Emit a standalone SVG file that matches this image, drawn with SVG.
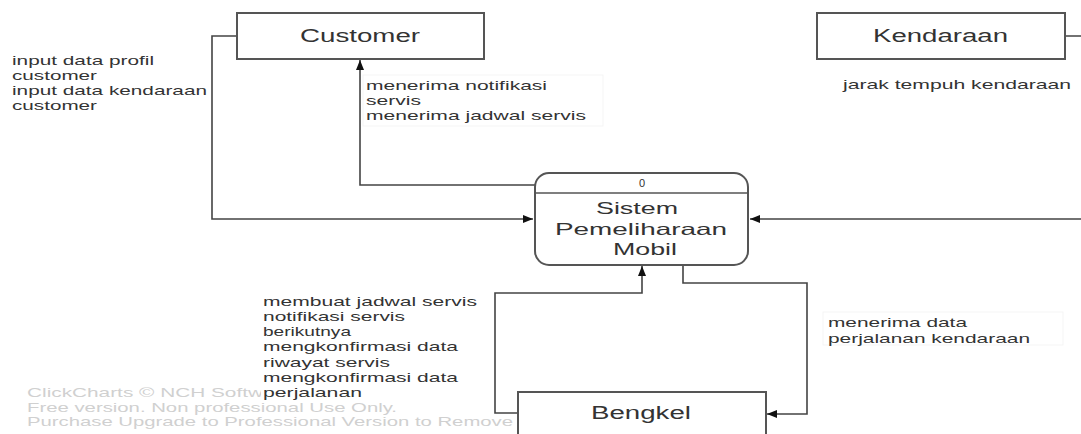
<svg xmlns="http://www.w3.org/2000/svg" width="1081" height="434" viewBox="0 0 1081 434">
<style>
.box{fill:#fff;stroke:#555;stroke-width:2}
.t{font-family:"Liberation Sans",Arial,sans-serif;fill:#333}
.title{font-size:17.5px}
.proc{font-size:16.5px}
.lbl{font-size:13.5px}
.wm{font-family:"Liberation Sans",Arial,sans-serif;font-size:13.5px;fill:#d0d0d0}
.conn{fill:none;stroke:#444;stroke-width:1.6}
.lbg{fill:#fff;stroke:#f5f5f5;stroke-width:1}
</style>
<defs>
<marker id="ah" markerUnits="userSpaceOnUse" markerWidth="10" markerHeight="8" refX="10" refY="4" orient="auto">
<path d="M0,0 L10,4 L0,8 z" fill="#111"/>
</marker>
</defs>
<rect width="1081" height="434" fill="#fff"/>
<g id="watermark">
<text class="wm" x="27" y="397" textLength="266" lengthAdjust="spacingAndGlyphs">ClickCharts © NCH Software</text>
<text class="wm" x="27" y="412" textLength="370" lengthAdjust="spacingAndGlyphs">Free version. Non professional Use Only.</text>
<text class="wm" x="27" y="426" textLength="486" lengthAdjust="spacingAndGlyphs">Purchase Upgrade to Professional Version to Remove</text>
</g>
<g id="connectors">
<path class="conn" d="M237,36 H212 V219 H533" marker-end="url(#ah)"/>
<path class="conn" d="M535,185 H360 V60" marker-end="url(#ah)"/>
<path class="conn" d="M1065,36 H1090 V219 H750" marker-end="url(#ah)"/>
<path class="conn" d="M518,413 H495 V293 H642 V266" marker-end="url(#ah)"/>
<path class="conn" d="M683,265 V283 H807 V414 H767" marker-end="url(#ah)"/>
</g>
<g id="labels">
<g id="lbl-customer-in">
<text class="t lbl" x="12" y="65" textLength="142" lengthAdjust="spacingAndGlyphs">input data profil</text>
<text class="t lbl" x="12" y="80" textLength="85" lengthAdjust="spacingAndGlyphs">customer</text>
<text class="t lbl" x="12" y="95" textLength="195" lengthAdjust="spacingAndGlyphs">input data kendaraan</text>
<text class="t lbl" x="12" y="110" textLength="85" lengthAdjust="spacingAndGlyphs">customer</text>
</g>
<g id="lbl-customer-out">
<rect class="lbg" x="363" y="75" width="240" height="51"/>
<text class="t lbl" x="366" y="90" textLength="181" lengthAdjust="spacingAndGlyphs">menerima notifikasi</text>
<text class="t lbl" x="366" y="105" textLength="55" lengthAdjust="spacingAndGlyphs">servis</text>
<text class="t lbl" x="366" y="120" textLength="220" lengthAdjust="spacingAndGlyphs">menerima jadwal servis</text>
</g>
<g id="lbl-kendaraan">
<text class="t lbl" x="843" y="89" textLength="228" lengthAdjust="spacingAndGlyphs">jarak tempuh kendaraan</text>
</g>
<g id="lbl-bengkel-in">
<rect x="261" y="293" width="218" height="108" fill="#fff"/>
<text class="t lbl" x="263" y="306" textLength="214" lengthAdjust="spacingAndGlyphs">membuat jadwal servis</text>
<text class="t lbl" x="263" y="321" textLength="142" lengthAdjust="spacingAndGlyphs">notifikasi servis</text>
<text class="t lbl" x="263" y="336" textLength="88" lengthAdjust="spacingAndGlyphs">berikutnya</text>
<text class="t lbl" x="263" y="351" textLength="195" lengthAdjust="spacingAndGlyphs">mengkonfirmasi data</text>
<text class="t lbl" x="263" y="367" textLength="127" lengthAdjust="spacingAndGlyphs">riwayat servis</text>
<text class="t lbl" x="263" y="382" textLength="195" lengthAdjust="spacingAndGlyphs">mengkonfirmasi data</text>
<text class="t lbl" x="263" y="397" textLength="99" lengthAdjust="spacingAndGlyphs">perjalanan</text>
</g>
<g id="lbl-bengkel-out">
<rect class="lbg" x="823" y="312" width="240" height="33"/>
<text class="t lbl" x="828" y="327" textLength="139" lengthAdjust="spacingAndGlyphs">menerima data</text>
<text class="t lbl" x="828" y="343" textLength="202" lengthAdjust="spacingAndGlyphs">perjalanan kendaraan</text>
</g>
</g>
<g id="customer">
<rect class="box" x="237" y="13" width="247" height="46"/>
<text class="t title" x="300" y="42" textLength="120" lengthAdjust="spacingAndGlyphs">Customer</text>
</g>
<g id="kendaraan">
<rect class="box" x="817" y="13" width="248" height="46"/>
<text class="t title" x="873" y="42" textLength="135" lengthAdjust="spacingAndGlyphs">Kendaraan</text>
</g>
<g id="process">
<rect class="box" x="535" y="173" width="213" height="92" rx="14" ry="14"/>
<line x1="535" y1="193" x2="748" y2="193" stroke="#555" stroke-width="1.6"/>
<text class="t" font-size="11" x="642" y="187" text-anchor="middle">0</text>
<text class="t proc" x="596" y="214" textLength="82" lengthAdjust="spacingAndGlyphs">Sistem</text>
<text class="t proc" x="555" y="235" textLength="172" lengthAdjust="spacingAndGlyphs">Pemeliharaan</text>
<text class="t proc" x="613" y="255" textLength="64" lengthAdjust="spacingAndGlyphs">Mobil</text>
</g>
<g id="bengkel">
<rect class="box" x="518" y="392" width="248" height="60"/>
<text class="t title" x="591" y="419" textLength="100" lengthAdjust="spacingAndGlyphs">Bengkel</text>
</g>
</svg>
